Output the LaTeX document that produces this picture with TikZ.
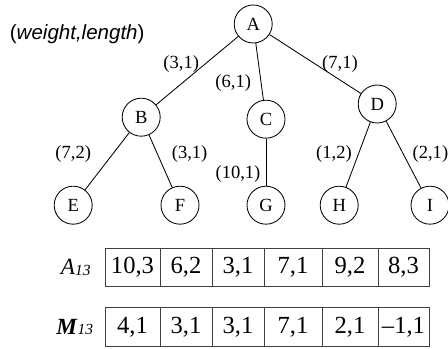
\documentclass[tikz,border=0pt]{standalone}
\usepackage{fontspec}
\setmainfont{Liberation Serif}
\newfontfamily\headfont{Liberation Sans}
\usetikzlibrary{positioning}

\begin{document}
\begin{tikzpicture}[
    font=\fontsize{13.2}{15}\selectfont,
    vertex/.style={draw, circle, line width=0.6pt, minimum size=0.95cm, inner sep=0pt},
    edge/.style={line width=0.6pt},
    wl/.style={inner sep=1pt},
    cell/.style={draw=black!75, line width=0.6pt, minimum height=0.97cm, inner sep=0pt, font=\fontsize{17.5}{20}\selectfont},
    rowlab/.style={inner sep=0pt, font=\fontsize{16.5}{18}\selectfont},
]
\useasboundingbox (0,0) rectangle (11.2,-8.725);
\node[font=\headfont\fontsize{14.6}{17}\selectfont] (head) at (1.93,-0.85) {(\textit{weight,length})};
% tree
\node[vertex] (A) at (6.33,-0.60) {A};
\node[vertex] (B) at (3.53,-2.93) {B};
\node[vertex] (C) at (6.65,-2.98) {C};
\node[vertex] (D) at (9.43,-2.60) {D};
\node[vertex] (E) at (1.83,-5.13) {E};
\node[vertex] (F) at (4.50,-5.13) {F};
\node[vertex] (G) at (6.65,-5.13) {G};
\node[vertex] (H) at (8.48,-5.13) {H};
\node[vertex] (I) at (10.75,-5.13) {I};
\draw[edge] (A) -- (B);
\draw[edge] (A) -- (C);
\draw[edge] (A) -- (D);
\draw[edge] (B) -- (E);
\draw[edge] (B) -- (F);
\draw[edge] (C) -- (G);
\draw[edge] (D) -- (H);
\draw[edge] (D) -- (I);
\node[wl] (wAB) at (4.53,-1.60) {(3,1)};
\node[wl] (wAC) at (5.83,-2.08) {(6,1)};
\node[wl] (wAD) at (8.50,-1.60) {(7,1)};
\node[wl] (wBE) at (1.83,-3.85) {(7,2)};
\node[wl] (wBF) at (4.74,-3.85) {(3,1)};
\node[wl] (wCG) at (5.95,-4.35) {(10,1)};
\node[wl] (wDH) at (8.35,-3.85) {(1,2)};
\node[wl] (wDI) at (10.76,-3.85) {(2,1)};
% arrays
\node[cell, minimum width=1.375cm] (a1) at (3.3125,-6.6875) {10,3};
\node[cell, minimum width=1.30cm] (a2) at (4.65,-6.6875) {6,2};
\node[cell, minimum width=1.30cm] (a3) at (5.95,-6.6875) {3,1};
\node[cell, minimum width=1.45cm] (a4) at (7.325,-6.6875) {7,1};
\node[cell, minimum width=1.40cm] (a5) at (8.75,-6.6875) {9,2};
\node[cell, minimum width=1.275cm] (a6) at (10.0875,-6.6875) {8,3};
\node[cell, minimum width=1.375cm] (m1) at (3.3125,-8.175) {4,1};
\node[cell, minimum width=1.30cm] (m2) at (4.65,-8.175) {3,1};
\node[cell, minimum width=1.30cm] (m3) at (5.95,-8.175) {3,1};
\node[cell, minimum width=1.45cm] (m4) at (7.325,-8.175) {7,1};
\node[cell, minimum width=1.40cm] (m5) at (8.75,-8.175) {2,1};
\node[cell, minimum width=1.275cm] (m6) at (10.0875,-8.175) {\textendash1,1};
\node[rowlab, left=0.34cm of a1] (alab) {\textit{A}\raisebox{-0.5pt}{\itshape\fontsize{11}{12}\selectfont 13}};
\node[rowlab, left=0.28cm of m1] (mlab) {\textbf{\textit{M}}\raisebox{-0.5pt}{\itshape\fontsize{11}{12}\selectfont 13}};
\end{tikzpicture}
\end{document}
